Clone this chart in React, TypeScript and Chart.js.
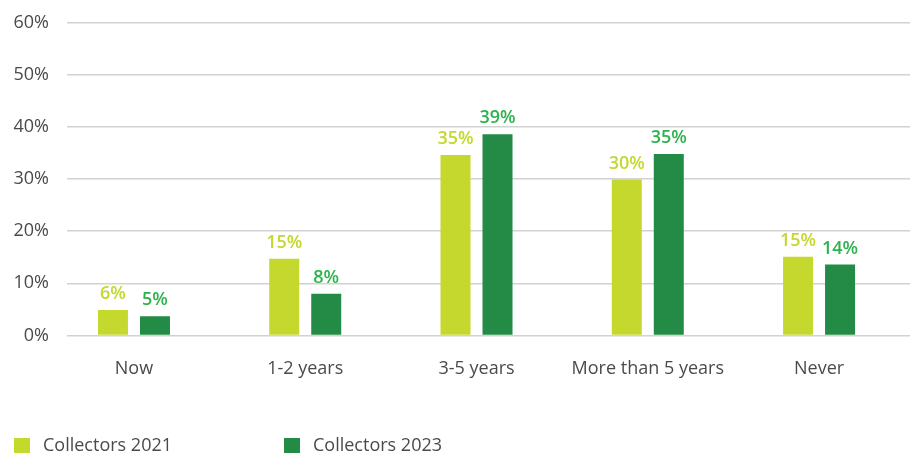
import React, { useEffect, useRef } from "react";
import { Chart, registerables } from "chart.js";

Chart.register(...registerables);

const categories = ["Now", "1-2 years", "3-5 years", "More than 5 years", "Never"];
const seriesNames = ["Collectors 2021", "Collectors 2023"];
const values2021 = [4.9, 14.7, 34.6, 29.9, 15.1];
const values2023 = [3.7, 8.0, 38.6, 34.8, 13.6];
const labels2021 = ["6%", "15%", "35%", "30%", "15%"];
const labels2023 = ["5%", "8%", "39%", "35%", "14%"];
const yTicks = [0, 10, 20, 30, 40, 50, 60];

const COLOR_2021 = "#c4d82e";
const COLOR_2023 = "#238b45";
const LABEL_2021 = "#c4d82e";
const LABEL_2023 = "#2db34d";
const TEXT = "#4a4a4a";
const FONT = "'Open Sans', sans-serif";

export default function App() {
  const ref = useRef<HTMLCanvasElement | null>(null);

  useEffect(() => {
    document.body.style.margin = "0";
    const canvas = ref.current;
    if (!canvas) return;

    const valueLabels = [labels2021, labels2023];
    const labelColors = [LABEL_2021, LABEL_2023];

    const dataLabelPlugin = {
      id: "dataLabels",
      afterDatasetsDraw(chart: any) {
        const ctx = chart.ctx;
        ctx.save();
        ctx.font = `600 18px ${FONT}`;
        ctx.textAlign = "center";
        ctx.textBaseline = "alphabetic";
        chart.data.datasets.forEach((ds: any, di: number) => {
          const meta = chart.getDatasetMeta(di);
          ctx.fillStyle = labelColors[di];
          meta.data.forEach((bar: any, i: number) => {
            ctx.fillText(valueLabels[di][i], bar.x, bar.y - 11);
          });
        });
        ctx.restore();
      },
    };

    const legendPlugin = {
      id: "customLegend",
      afterDraw(chart: any) {
        const ctx = chart.ctx;
        const starts = [14, 284];
        ctx.save();
        ctx.font = `400 18px ${FONT}`;
        ctx.textBaseline = "middle";
        ctx.textAlign = "left";
        chart.data.datasets.forEach((ds: any, di: number) => {
          const x = starts[di];
          ctx.fillStyle = ds.backgroundColor;
          ctx.fillRect(x, 438, 16, 16);
          ctx.fillStyle = TEXT;
          ctx.fillText(ds.label, x + 29, 446);
        });
        ctx.restore();
      },
    };

    const chart = new Chart(canvas, {
      type: "bar",
      data: {
        datasets: [
          {
            label: seriesNames[0],
            data: values2021.map((v, i) => ({ x: i, y: v })),
            backgroundColor: COLOR_2021,
            categoryPercentage: 0.4905,
            barPercentage: 0.714,
          },
          {
            label: seriesNames[1],
            data: values2023.map((v, i) => ({ x: i, y: v })),
            backgroundColor: COLOR_2023,
            categoryPercentage: 0.4905,
            barPercentage: 0.714,
          },
        ],
      },
      options: {
        animation: false,
        responsive: false,
        layout: { padding: { top: 22.5, right: 4, left: 0, bottom: 0 } },
        plugins: {
          legend: { display: false },
          tooltip: { enabled: false },
        },
        scales: {
          x: {
            type: "linear",
            bounds: "data",
            offset: false,
            min: -0.391,
            max: 4.531,
            grid: { display: false },
            border: { display: false },
            afterFit: (scale: any) => {
              scale.height = 453 - 335.5;
              scale.paddingLeft = 0;
              scale.paddingRight = 0;
            },
            afterBuildTicks: (scale: any) => {
              scale.ticks = categories.map((_, i) => ({ value: i }));
            },
            ticks: {
              padding: 15,
              color: TEXT,
              font: { family: FONT, size: 18, weight: "400" },
              maxRotation: 0,
              autoSkip: false,
              callback: (v: any) => categories[v] ?? "",
            },
          },
          y: {
            min: 0,
            max: 60,
            afterFit: (scale: any) => {
              scale.width = 67;
              scale.paddingTop = 0;
              scale.paddingBottom = 0;
            },
            afterBuildTicks: (scale: any) => {
              scale.ticks = yTicks.map((v) => ({ value: v }));
            },
            grid: { color: "#d2d2d2", lineWidth: 1.5, drawTicks: false },
            border: { display: false },
            ticks: {
              padding: 18,
              color: TEXT,
              font: { family: FONT, size: 18, weight: "400" },
              callback: (v: any) => `${v}%`,
            },
          },
        },
      },
      plugins: [dataLabelPlugin, legendPlugin],
    });

    return () => chart.destroy();
  }, []);

  return (
    <div style={{ width: 914, height: 453 }}>
      <canvas ref={ref} width={914} height={453} />
    </div>
  );
}
